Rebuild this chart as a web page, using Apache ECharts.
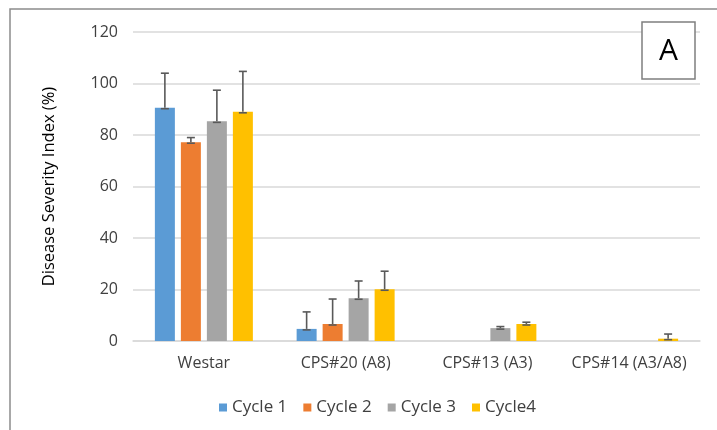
<!DOCTYPE html>
<html>
<head>
<meta charset="utf-8">
<script src="https://cdn.jsdelivr.net/npm/echarts@6/dist/echarts.min.js"></script>
<style>html,body{margin:0;padding:0;background:#fff;}#c{width:717px;height:430px;}</style>
</head>
<body>
<div id="c"></div>
<script>
const categories = ['Westar', 'CPS#20 (A8)', 'CPS#13 (A3)', 'CPS#14 (A3/A8)'];
const seriesNames = ['Cycle 1', 'Cycle 2', 'Cycle 3', 'Cycle4'];
const cycle1 = [90.6, 4.7, 0, 0];
const cycle2 = [77.2, 6.6, 0, 0];
const cycle3 = [85.3, 16.6, 5.0, 0];
const cycle4 = [89.0, 20.1, 6.6, 0.9];
const err1 = [13.4, 6.6, 0, 0];
const err2 = [1.8, 9.7, 0, 0];
const err3 = [12.1, 6.7, 0.6, 0];
const err4 = [15.7, 7.0, 0.7, 1.8];
const yTicks = [0, 20, 40, 60, 80, 100, 120];

const colors = ['#5B9BD5', '#ED7D31', '#A5A5A5', '#FFC000'];
const values = [cycle1, cycle2, cycle3, cycle4];
const errs = [err1, err2, err3, err4];
const BAR_W = 20, BAR_GAP = 6;
const FONT = "'Open Sans', 'Noto Sans', sans-serif";

const chart = echarts.init(document.getElementById('c'));
const series = [];
values.forEach((vals, i) => {
  series.push({
    name: seriesNames[i], type: 'bar', data: vals,
    barWidth: BAR_W, barGap: (BAR_GAP / BAR_W * 100) + '%',
    itemStyle: { color: colors[i] }, z: 2
  });
});
values.forEach((vals, i) => {
  const data = vals.map((v, k) => [k, v, errs[i][k]]);
  series.push({
    type: 'custom', name: seriesNames[i] + ' err', z: 5, silent: true,
    data: data,
    renderItem: function (params, api) {
      const e = api.value(2);
      if (!e) return null;
      const off = (i - 1.5) * (BAR_W + BAR_GAP);
      const base = api.coord([api.value(0), api.value(1)]);
      const top = api.coord([api.value(0), api.value(1) + e]);
      const x = base[0] + off;
      const st = { stroke: '#595959', lineWidth: 1.6 };
      return { type: 'group', children: [
        { type: 'line', shape: { x1: x, y1: base[1], x2: x, y2: top[1] }, style: st },
        { type: 'line', shape: { x1: x - 4, y1: top[1], x2: x + 4, y2: top[1] }, style: st },
        { type: 'line', shape: { x1: x - 4, y1: base[1] + 1, x2: x + 4, y2: base[1] + 1 }, style: st }
      ]};
    }
  });
});

chart.setOption({
  animation: false,
  textStyle: { fontFamily: FONT },
  grid: { left: 133, right: 17, top: 32, bottom: 89 },
  legend: {
    data: seriesNames, left: 214, top: 394,
    icon: 'rect', itemWidth: 8, itemHeight: 8, itemGap: 16,
    textStyle: { fontSize: 17, color: '#404040', fontFamily: FONT }
  },
  xAxis: {
    type: 'category', data: categories,
    axisLine: { lineStyle: { color: '#d9d9d9', width: 1.5 } },
    axisTick: { show: false },
    axisLabel: { interval: 0, fontSize: 16, color: '#404040', margin: 14, fontFamily: FONT }
  },
  yAxis: {
    type: 'value', min: yTicks[0], max: yTicks[yTicks.length - 1], interval: 20,
    name: 'Disease Severity Index (%)', nameLocation: 'middle', nameGap: 75,
    nameTextStyle: { fontSize: 16.5, color: '#000', fontFamily: FONT },
    axisLine: { show: false }, axisTick: { show: false },
    axisLabel: { fontSize: 16, color: '#404040', margin: 15, fontFamily: FONT },
    splitLine: { lineStyle: { color: '#d9d9d9', width: 1.5 } }
  },
  graphic: [
    { type: 'rect', shape: { x: 10, y: 9, width: 800, height: 500 }, style: { fill: 'none', stroke: '#8c8c8c', lineWidth: 1.5 }, silent: true },
    { type: 'rect', shape: { x: 642, y: 22, width: 53, height: 57 }, style: { fill: '#fff', stroke: '#7f7f7f', lineWidth: 1.5 }, z: 10 },
    { type: 'text', x: 668.5, y: 51, z: 11, style: { text: 'A', fontSize: 30, fontFamily: FONT, fill: '#000', textAlign: 'center', textVerticalAlign: 'middle' } }
  ],
  series: series
});
</script>
</body>
</html>
